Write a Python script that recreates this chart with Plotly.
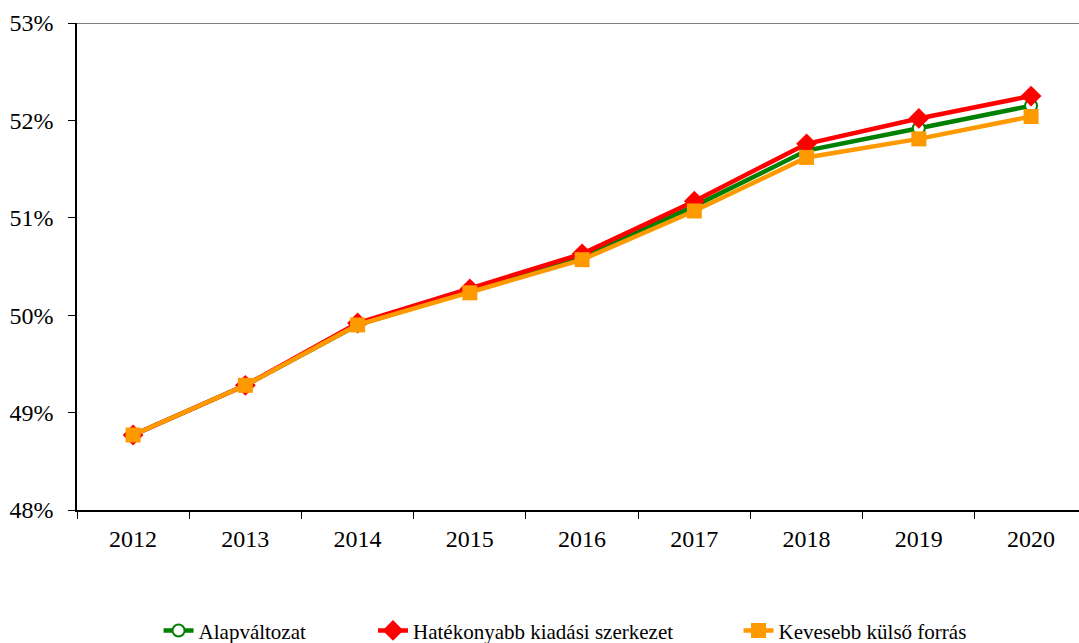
import plotly.graph_objects as go

# Données (en %)
years = ["2012", "2013", "2014", "2015", "2016", "2017", "2018", "2019", "2020"]
alap = [48.77, 49.28, 49.90, 50.25, 50.60, 51.12, 51.69, 51.92, 52.15]
hatekony = [48.77, 49.28, 49.92, 50.27, 50.63, 51.17, 51.76, 52.02, 52.25]
kevesebb = [48.77, 49.28, 49.90, 50.23, 50.57, 51.07, 51.62, 51.81, 52.04]
y_ticks = [48, 49, 50, 51, 52, 53]

serif = "Times New Roman"

fig = go.Figure()

fig.add_trace(go.Scatter(
    x=years, y=alap, name="Alapváltozat", mode="lines+markers",
    line=dict(color="#008000", width=4.5),
    marker=dict(symbol="circle", size=12, color="white", line=dict(color="#008000", width=2)),
    legend="legend",
))
fig.add_trace(go.Scatter(
    x=years, y=hatekony, name="Hatékonyabb kiadási szerkezet", mode="lines+markers",
    line=dict(color="#ff0000", width=4.5),
    marker=dict(symbol="diamond", size=16, color="#ff0000"),
    legend="legend2",
))
fig.add_trace(go.Scatter(
    x=years, y=kevesebb, name="Kevesebb külső forrás", mode="lines+markers",
    line=dict(color="#ff9900", width=4.5),
    marker=dict(symbol="square", size=15, color="#ff9900"),
    legend="legend3",
))

# Légendes séparées pour reproduire l'espacement
leg = dict(orientation="h", y=-0.248, yanchor="middle", xanchor="left",
           font=dict(family=serif, size=21), itemwidth=30, bgcolor="rgba(0,0,0,0)")

fig.update_layout(
    width=1079, height=643,
    margin=dict(l=77, r=0, t=23, b=133, autoexpand=False),
    paper_bgcolor="white", plot_bgcolor="white",
    font=dict(family=serif, size=24, color="black"),
    showlegend=True,
    legend=dict(leg, x=0.0814),
    legend2=dict(leg, x=0.2954),
    legend3=dict(leg, x=0.6602),
)

# Ligne grise en haut du cadre (53%)
fig.add_shape(type="line", xref="paper", yref="y", x0=0, x1=1, y0=53, y1=53,
              line=dict(color="#808080", width=2))

# Le dernier intervalle dépasse légèrement le bord droit (comme l'original)
fig.update_xaxes(
    type="category", showgrid=False, showline=True, linecolor="#000000", linewidth=1.5,
    ticks="outside", tickson="boundaries", ticklen=7, tickcolor="#000000",
    ticklabelstandoff=6, range=[-0.5, 8.427], zeroline=False,
)
fig.update_yaxes(
    range=[48, 53], tickvals=y_ticks, ticktext=[f"{v}%" for v in y_ticks],
    showgrid=False,
    showline=True, linecolor="#000000", linewidth=1.5,
    ticks="outside", ticklen=7, tickcolor="#000000", ticklabelstandoff=10, zeroline=False,
)

# Supprimer la marge par défaut du body
fig.write_html("out.html", config={"displayModeBar": False},
               post_script="document.body.style.margin='0';")
